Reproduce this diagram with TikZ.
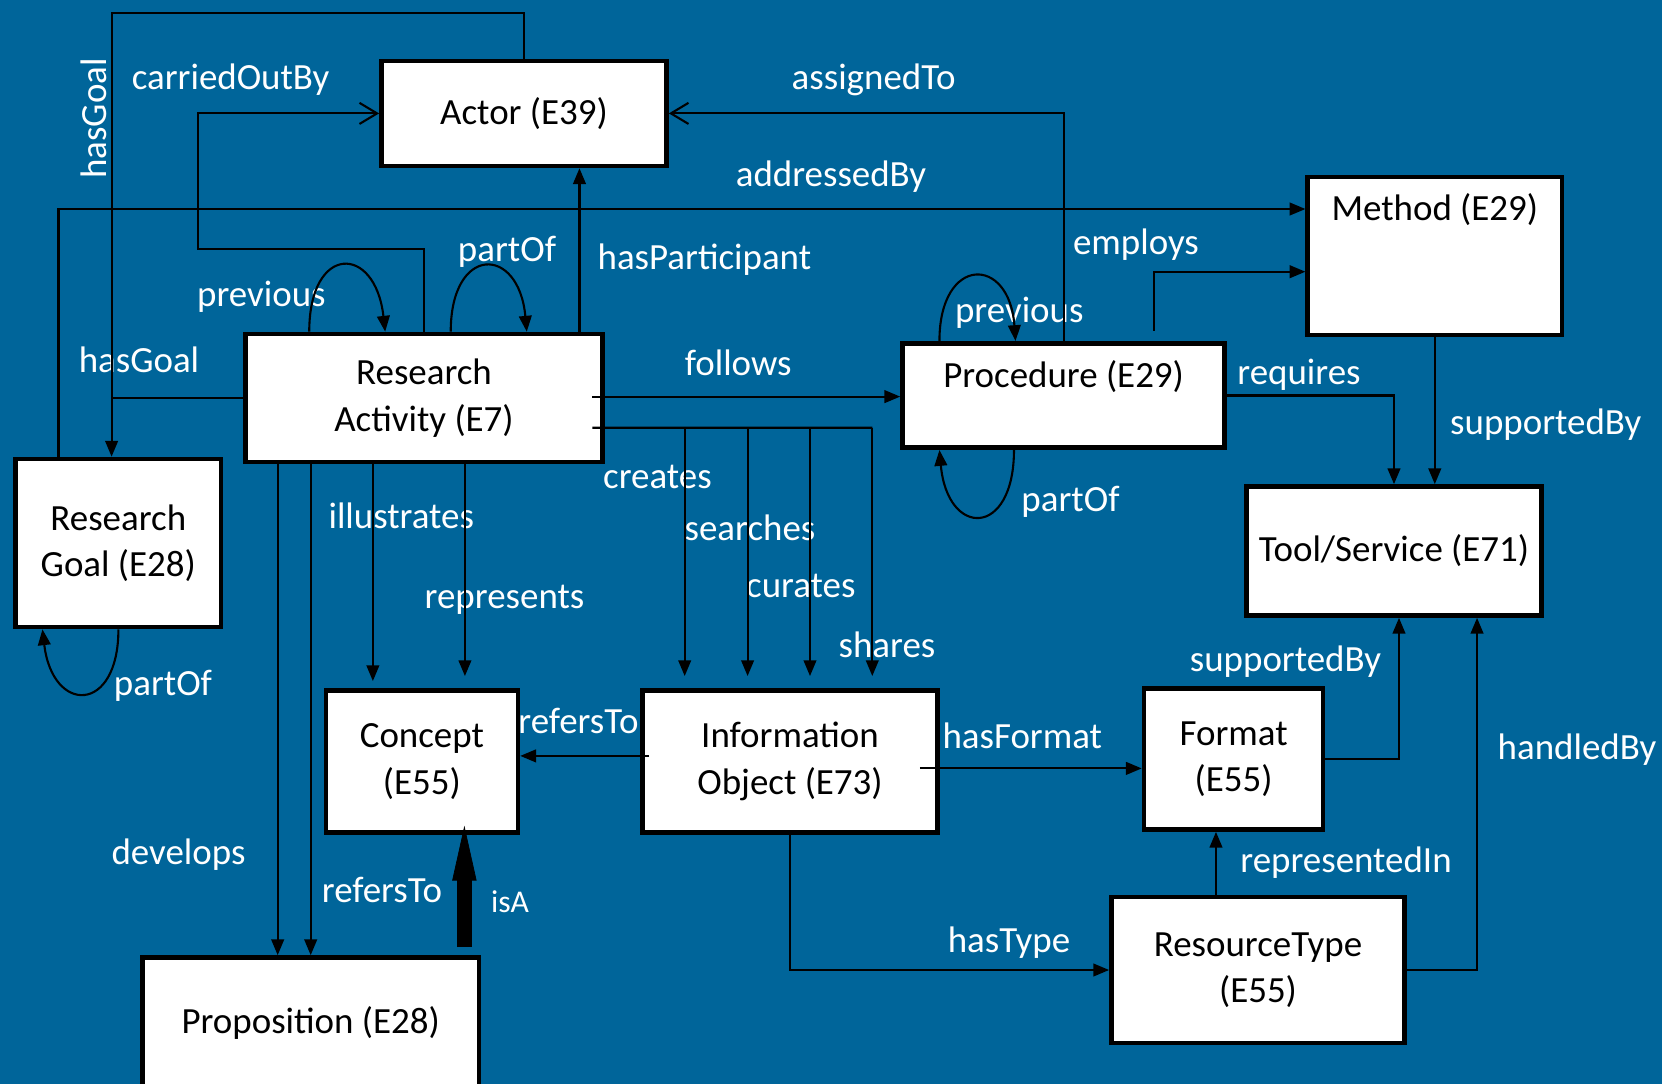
\documentclass[tikz,border=0pt]{standalone}
\usepackage{fontspec}
\setmainfont{Carlito}
\usetikzlibrary{arrows.meta}
\definecolor{bgblue}{RGB}{0,101,154}

\begin{document}
\begin{tikzpicture}[x=0.01cm, y=-0.01cm,
		font=\fontsize{10.5}{13.2}\selectfont,
		box/.style={draw=black, fill=white, line width=1.3pt, inner sep=0pt, align=center},
		topbox/.style={box, inner ysep=0.11cm, text height=0.33cm},
		lbl/.style={text=white, inner sep=0pt},
		con/.style={line width=0.6pt},
		arr/.style={con, -{Triangle[length=4.5pt,width=3.6pt]}},
		openarr/.style={con, -{Straight Barb[length=5pt,width=6pt]}},
		isa/.style={line width=4.3pt, -{Triangle[length=15.6pt,width=6.9pt,line width=0.2pt]}}]
	\useasboundingbox (0,0) rectangle (1662,1084);
	\fill[bgblue] (0,0) rectangle (1662,1084);

	\node[lbl, rotate=90] (lgoal1) at (93.8,118.3) {hasGoal};
	\node[lbl] (lcarr) at (230.6,79.5) {carriedOutBy};
	\node[lbl] (lassign) at (873.6,80) {assignedTo};
	\node[lbl] (laddr) at (831,177) {addressedBy};
	\node[lbl] (lemp) at (1136,245) {employs};
	\node[lbl] (lpart) at (704.4,259.7) {hasParticipant};
	\node[lbl] (lpartof1) at (507,251.7) {partOf};
	\node[lbl] (lprev1) at (261.4,296.7) {previous};
	\node[lbl] (lprev2) at (1019.3,313) {previous};
	\node[lbl] (lgoal2) at (139,360) {hasGoal};
	\node[lbl] (lfollows) at (738.2,363) {follows};
	\node[lbl] (lreq) at (1299,375) {requires};
	\node[lbl] (lsup1) at (1545.8,425) {supportedBy};
	\node[lbl] (lcreates) at (657.4,477) {creates};
	\node[lbl] (lpartof2) at (1070.5,501.6) {partOf};
	\node[lbl] (lillu) at (401.3,516) {illustrates};
	\node[lbl] (lsearch) at (750,528) {searches};
	\node[lbl] (lcur) at (800.8,585.8) {curates};
	\node[lbl] (lrepr) at (504.5,600) {represents};
	\node[lbl] (lshares) at (887,645) {shares};
	\node[lbl] (lsup2) at (1285.5,661.8) {supportedBy};
	\node[lbl] (lpartof3) at (163,685.6) {partOf};
	\node[lbl] (lref1) at (578.5,721) {refersTo};
	\node[lbl] (lfmt) at (1022.3,735.7) {hasFormat};
	\node[lbl] (lhand) at (1577,750) {handledBy};
	\node[lbl] (ldev) at (178.5,854.8) {develops};
	\node[lbl] (lrepin) at (1346,863) {representedIn};
	\node[lbl] (lref2) at (382,889.7) {refersTo};
	\node[lbl, font=\fontsize{9}{11}\selectfont] (lisa) at (510,902) {isA};
	\node[lbl] (ltype) at (1009,943) {hasType};

	\node[box, minimum width=2.85cm, minimum height=1.05cm] (actor) at (524,113.4) {Actor (E39)};
	\node[topbox, minimum width=2.54cm, text depth=1.03cm] (method) at (1434.8,256) {Method (E29)};
	\node[box, minimum width=3.57cm, minimum height=1.28cm] (ra) at (424,398) {Research\\Activity (E7)};
	\node[topbox, minimum width=3.22cm, text depth=0.494cm] (proc) at (1063.6,395.5) {Procedure (E29)};
	\node[box, minimum width=2.05cm, minimum height=1.68cm] (rg) at (118.3,543) {Research\\Goal (E28)};
	\node[box, minimum width=2.95cm, minimum height=1.29cm] (tool) at (1394,551) {Tool/Service (E71)};
	\node[box, minimum width=1.92cm, minimum height=1.42cm] (concept) at (421.9,761.4) {Concept\\(E55)};
	\node[box, minimum width=2.95cm, minimum height=1.42cm] (io) at (790,761.4) {Information\\Object (E73)};
	\node[box, minimum width=1.79cm, minimum height=1.41cm] (format) at (1233.6,759) {Format\\(E55)};
	\node[box, minimum width=2.93cm, minimum height=1.46cm] (rtype) at (1258,970) {ResourceType\\(E55)};
	\node[box, minimum width=3.36cm, minimum height=1.31cm] (prop) at (310.7,1023) {Proposition (E28)};

	\coordinate (goalx) at (111.6,12.7);
	\coordinate (addr) at (58.5,209);
	\coordinate (carr) at (197.8,249.3);
	\coordinate (hp) at ([xshift=-0.254cm]ra.north east);
	\coordinate (emp) at ([xshift=0.904cm,yshift=0.1cm]proc.north);
	\coordinate (fo) at ([xshift=-0.126cm,yshift=0.014cm]ra.east);
	\coordinate (cb) at ([xshift=-0.126cm,yshift=-0.297cm]ra.east);
	\foreach \x [count=\i] in {684.7,747.6,810,872.3}
		\coordinate (c\i) at (\x,427.7);
	\coordinate (rep) at ([xshift=-0.176cm]format.south);
	\coordinate (hf) at ([xshift=-0.2cm,yshift=-0.07cm]io.east);
	\coordinate (rf) at ([xshift=0.09cm,yshift=0.055cm]io.west);
	\coordinate (il) at ([xshift=-0.49cm]concept.north);
	\coordinate (rp) at ([xshift=0.43cm]concept.north);
	\coordinate (dv) at ([xshift=-0.33cm]prop.north);
	\coordinate (isapt) at ([xshift=1.536cm,yshift=0.08cm]prop.north);
	\coordinate (isatop) at ([yshift=0.09cm]concept.south);

	\draw[arr] (actor.north) |- (goalx) -- (goalx |- rg.north);
	\draw[con] (ra.west) -- (ra.west -| goalx);
	\draw[arr] (addr |- rg.north) -- (addr) -- (addr -| method.west);
	\draw[openarr] (ra.north) |- (carr) |- (actor.west);
	\draw[arr] (hp) -- (hp |- actor.south);
	\draw[openarr] (proc.north) |- (actor.east);
	\draw[arr] (emp) |- ([yshift=-0.157cm]method.west);

	\draw[arr] ([xshift=0.661cm]ra.north west) .. controls +(0,-88) and +(-10,-88) .. ([xshift=1.42cm]ra.north west);
	\draw[arr] ([xshift=2.075cm]ra.north west) .. controls +(0,-87) and +(-8,-87) .. ([xshift=2.835cm]ra.north west);
	\draw[arr] ([xshift=0.392cm]proc.north west) .. controls +(0,-86) and +(-6,-86) .. ([xshift=1.152cm]proc.north west);
	\draw[arr] ([xshift=1.137cm]proc.south west) .. controls +(0,88) and +(8,88) .. ([xshift=0.392cm]proc.south west);
	\draw[arr] ([xshift=1.049cm]rg.south west) .. controls +(0,85) and +(10,85) .. ([xshift=0.29cm]rg.south west);

	\draw[arr] (fo) -- (fo -| proc.west);
	\draw[con] (cb) -- (c4);
	\foreach \i in {1,...,4}
		\draw[arr, shorten >=0.12cm] (c\i) -- (c\i |- io.north);
	\draw[arr] (proc.east) -| (tool.north);
	\draw[arr] (method.south) -- (method.south |- tool.north);
	\draw[arr] (format.east) -| ([xshift=0.05cm]tool.south);
	\draw[arr] (rtype.east) -| ([xshift=0.83cm]tool.south);
	\draw[arr] (rep |- rtype.north) -- (rep);
	\draw[arr] (io.south) |- (rtype.west);
	\draw[arr] (hf) -- (hf -| format.west);
	\draw[arr] (rf) -- (rf -| concept.east);
	\draw[arr, shorten >=0.07cm] (il |- ra.south) -- (il);
	\draw[arr, shorten >=0.12cm] (rp |- ra.south) -- (rp);
	\draw[arr] (dv |- ra.south) -- (dv);
	\draw[arr] (prop.north |- ra.south) -- (prop.north);
	\draw[isa] (isapt) -- (isapt |- isatop);
\end{tikzpicture}
\end{document}
